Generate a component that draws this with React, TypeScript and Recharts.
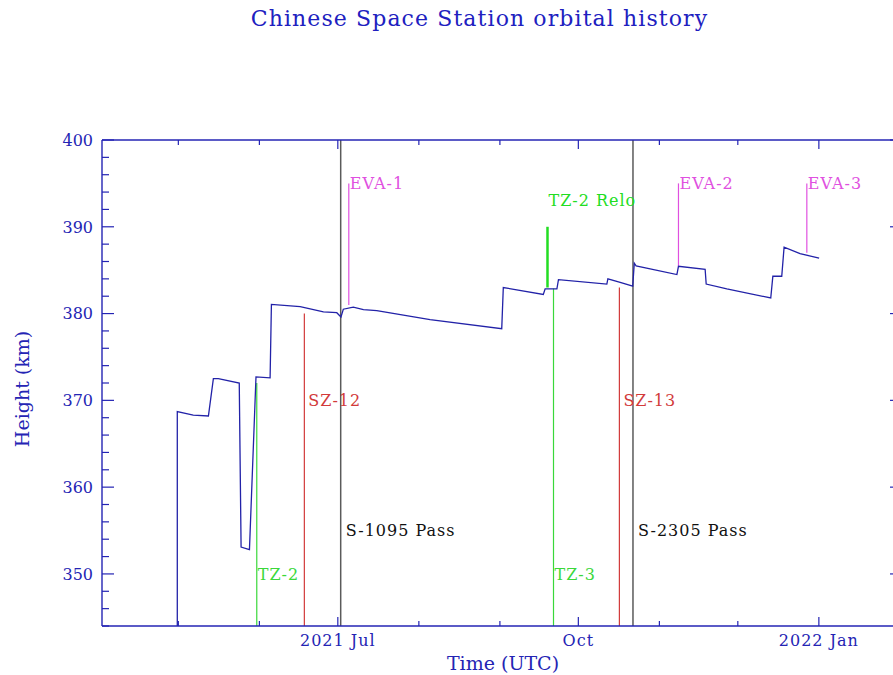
import { LineChart, Line, XAxis, YAxis, ReferenceLine, ReferenceDot } from "recharts";

// time is in days since 2021-04-01 00:00 UTC
const orbitDays = [
  29.6, 29.6, 35.7, 41.5, 43.4, 45.3, 53.3, 54.0, 57.2, 59.7, 65.1, 65.6, 76.6, 85.5,
  90.6, 92.2, 93.1, 96.9, 100.8, 105.9, 126.3, 153.7, 154.3, 169.6, 170.3, 174.8,
  175.4, 193.9, 194.3, 199.0, 203.8, 204.4, 205.1, 220.7, 221.3, 231.5, 231.9, 239.8,
  256.6, 257.4, 260.8, 261.7, 267.8, 275.1,
];
const orbitHeight = [
  344, 368.7, 368.3, 368.2, 372.5, 372.5, 372.0, 353.1, 352.8, 372.7, 372.6, 381.05,
  380.8, 380.2, 380.1, 379.6, 380.5, 380.75, 380.45, 380.35, 379.3, 378.25, 383.0,
  382.2, 382.85, 382.85, 383.9, 383.4, 384.0, 383.6, 383.15, 385.8, 385.5, 384.5,
  385.45, 385.1, 383.4, 382.85, 381.8, 384.3, 384.3, 387.65, 386.9, 386.4,
];

const monthTicks = [30, 61, 91, 122, 153, 183, 214, 244, 275];
const monthLabels = ["", "", "2021 Jul", "", "", "Oct", "", "", "2022 Jan"];

const heightTicks = [
  344, 346, 348, 350, 352, 354, 356, 358, 360, 362, 364, 366, 368, 370, 372, 374, 376,
  378, 380, 382, 384, 386, 388, 390, 392, 394, 396, 398, 400,
];
const heightLabels = [350, 360, 370, 380, 390, 400];

const eventNames = [
  "TZ-2", "SZ-12", "S-1095 Pass", "EVA-1", "TZ-2 Relo",
  "TZ-3", "SZ-13", "S-2305 Pass", "EVA-2", "EVA-3",
];
const eventKinds = ["TZ", "SZ", "PASS", "EVA", "RELO", "TZ", "SZ", "PASS", "EVA", "EVA"];
const eventDays = [60.0, 78.2, 92.1, 95.2, 171.2, 173.5, 198.7, 203.9, 221.3, 270.4];
const eventFrom = [344, 344, 344, 381.0, 383.0, 344, 344, 344, 385.5, 387.0];
const eventTo = [372.0, 380.0, 400, 395, 390.0, 382.9, 383.0, 400, 395, 395];
const eventLabelAt = [350, 370, 355, 395, 393, 350, 370, 355, 395, 395];

const AXIS = "#2424b4";
const FONT = "'DejaVu Serif', serif";

const kindColor: Record<string, string> = {
  TZ: "#3ad83a",
  RELO: "#22dd22",
  SZ: "#d23a3a",
  PASS: "#5a5a5a",
  EVA: "#e050e0",
};
const kindWidth: Record<string, number> = { TZ: 1.2, RELO: 2.5, SZ: 1.2, PASS: 1.5, EVA: 1.2 };
const labelGap: Record<string, number> = { TZ: 1, RELO: 1, SZ: 4, PASS: 5, EVA: 1 };

const orbit = orbitDays.map((d, i) => ({ d, h: orbitHeight[i] }));

const LeftTick = ({ x, y, payload }: any) => {
  const major = heightLabels.includes(payload.value);
  return (
    <g>
      <line x1={x} x2={x + (major ? 12 : 7)} y1={y} y2={y} stroke={AXIS} strokeWidth={1.2} />
      {major && (
        <text x={x - 9} y={y} dy="0.36em" textAnchor="end" fill={AXIS} fontSize={16} fontFamily={FONT}>
          {payload.value}
        </text>
      )}
    </g>
  );
};

const RightTick = ({ x, y, payload }: any) => {
  const major = heightLabels.includes(payload.value);
  return <line x1={x} x2={x - (major ? 12 : 7)} y1={y} y2={y} stroke={AXIS} strokeWidth={1.2} />;
};

const BottomTick = ({ x, y, payload }: any) => {
  const label = monthLabels[monthTicks.indexOf(payload.value)];
  return (
    <g>
      <line x1={x} x2={x} y1={y} y2={y - (label ? 9 : 5)} stroke={AXIS} strokeWidth={1.2} />
      {label && (
        <text
          x={x}
          y={y + 14}
          dy="0.36em"
          textAnchor="middle"
          fill={AXIS}
          fontSize={16}
          letterSpacing={1}
          fontFamily={FONT}
        >
          {label}
        </text>
      )}
    </g>
  );
};

const TopTick = ({ x, y, payload }: any) => {
  const label = monthLabels[monthTicks.indexOf(payload.value)];
  return <line x1={x} x2={x} y1={y} y2={y + (label ? 9 : 5)} stroke={AXIS} strokeWidth={1.2} />;
};

export default function App() {
  return (
    <div
      style={{
        position: "absolute",
        left: 0,
        top: 0,
        width: 893,
        height: 675,
        overflow: "hidden",
        background: "#ffffff",
        fontFamily: FONT,
      }}
    >
      <div
        style={{
          position: "absolute",
          left: 0,
          top: 6,
          width: 959,
          textAlign: "center",
          color: "#2020c0",
          fontSize: 22,
          letterSpacing: 1.1,
          whiteSpace: "nowrap",
        }}
      >
        Chinese Space Station orbital history
      </div>
      <div
        style={{
          position: "absolute",
          left: 22,
          top: 389,
          transform: "translate(-50%, -50%) rotate(-90deg)",
          color: AXIS,
          fontSize: 19,
          whiteSpace: "nowrap",
        }}
      >
        Height (km)
      </div>
      <div
        style={{
          position: "absolute",
          left: 503,
          top: 663,
          transform: "translate(-50%, -50%)",
          color: AXIS,
          fontSize: 19,
          whiteSpace: "nowrap",
        }}
      >
        Time (UTC)
      </div>
      <div style={{ position: "absolute", left: 0, top: 0 }}>
        <LineChart
          width={910}
          height={675}
          data={orbit}
          margin={{ top: 139, right: 7, bottom: 48, left: 101 }}
        >
          <XAxis
            dataKey="d"
            type="number"
            domain={[0.8, 306.8]}
            allowDataOverflow
            ticks={monthTicks}
            interval={0}
            height={1}
            tickSize={0}
            tickMargin={0}
            tick={<BottomTick />}
            axisLine={{ stroke: AXIS, strokeWidth: 1.4 }}
          />
          <XAxis
            xAxisId="top"
            orientation="top"
            dataKey="d"
            type="number"
            domain={[0.8, 306.8]}
            allowDataOverflow
            ticks={monthTicks}
            interval={0}
            height={1}
            tickSize={0}
            tickMargin={0}
            tick={<TopTick />}
            axisLine={{ stroke: AXIS, strokeWidth: 1.4 }}
          />
          <YAxis
            type="number"
            domain={[344, 400]}
            allowDataOverflow
            ticks={heightTicks}
            interval={0}
            width={1}
            tickSize={0}
            tickMargin={0}
            tick={<LeftTick />}
            axisLine={{ stroke: AXIS, strokeWidth: 1.4 }}
          />
          <YAxis
            yAxisId="right"
            orientation="right"
            type="number"
            domain={[344, 400]}
            allowDataOverflow
            ticks={heightTicks}
            interval={0}
            width={1}
            tickSize={0}
            tickMargin={0}
            tick={<RightTick />}
            axisLine={{ stroke: AXIS, strokeWidth: 1.4 }}
          />
          {eventNames.map((name, i) => (
            <ReferenceLine
              key={"l" + name}
              segment={[
                { x: eventDays[i], y: eventFrom[i] },
                { x: eventDays[i], y: eventTo[i] },
              ]}
              stroke={kindColor[eventKinds[i]]}
              strokeWidth={kindWidth[eventKinds[i]]}
            />
          ))}
          {eventNames.map((name, i) => (
            <ReferenceDot
              key={"t" + name}
              x={eventDays[i]}
              y={eventLabelAt[i]}
              r={0}
              fill="none"
              stroke="none"
              label={{
                value: name,
                position: "right",
                offset: labelGap[eventKinds[i]],
                fill: eventKinds[i] === "PASS" ? "#111111" : kindColor[eventKinds[i]],
                fontSize: 16,
                letterSpacing: 1,
                fontFamily: FONT,
              }}
            />
          ))}
          <Line
            type="linear"
            dataKey="h"
            stroke="#2222a8"
            strokeWidth={1.3}
            dot={false}
            isAnimationActive={false}
          />
        </LineChart>
      </div>
    </div>
  );
}
